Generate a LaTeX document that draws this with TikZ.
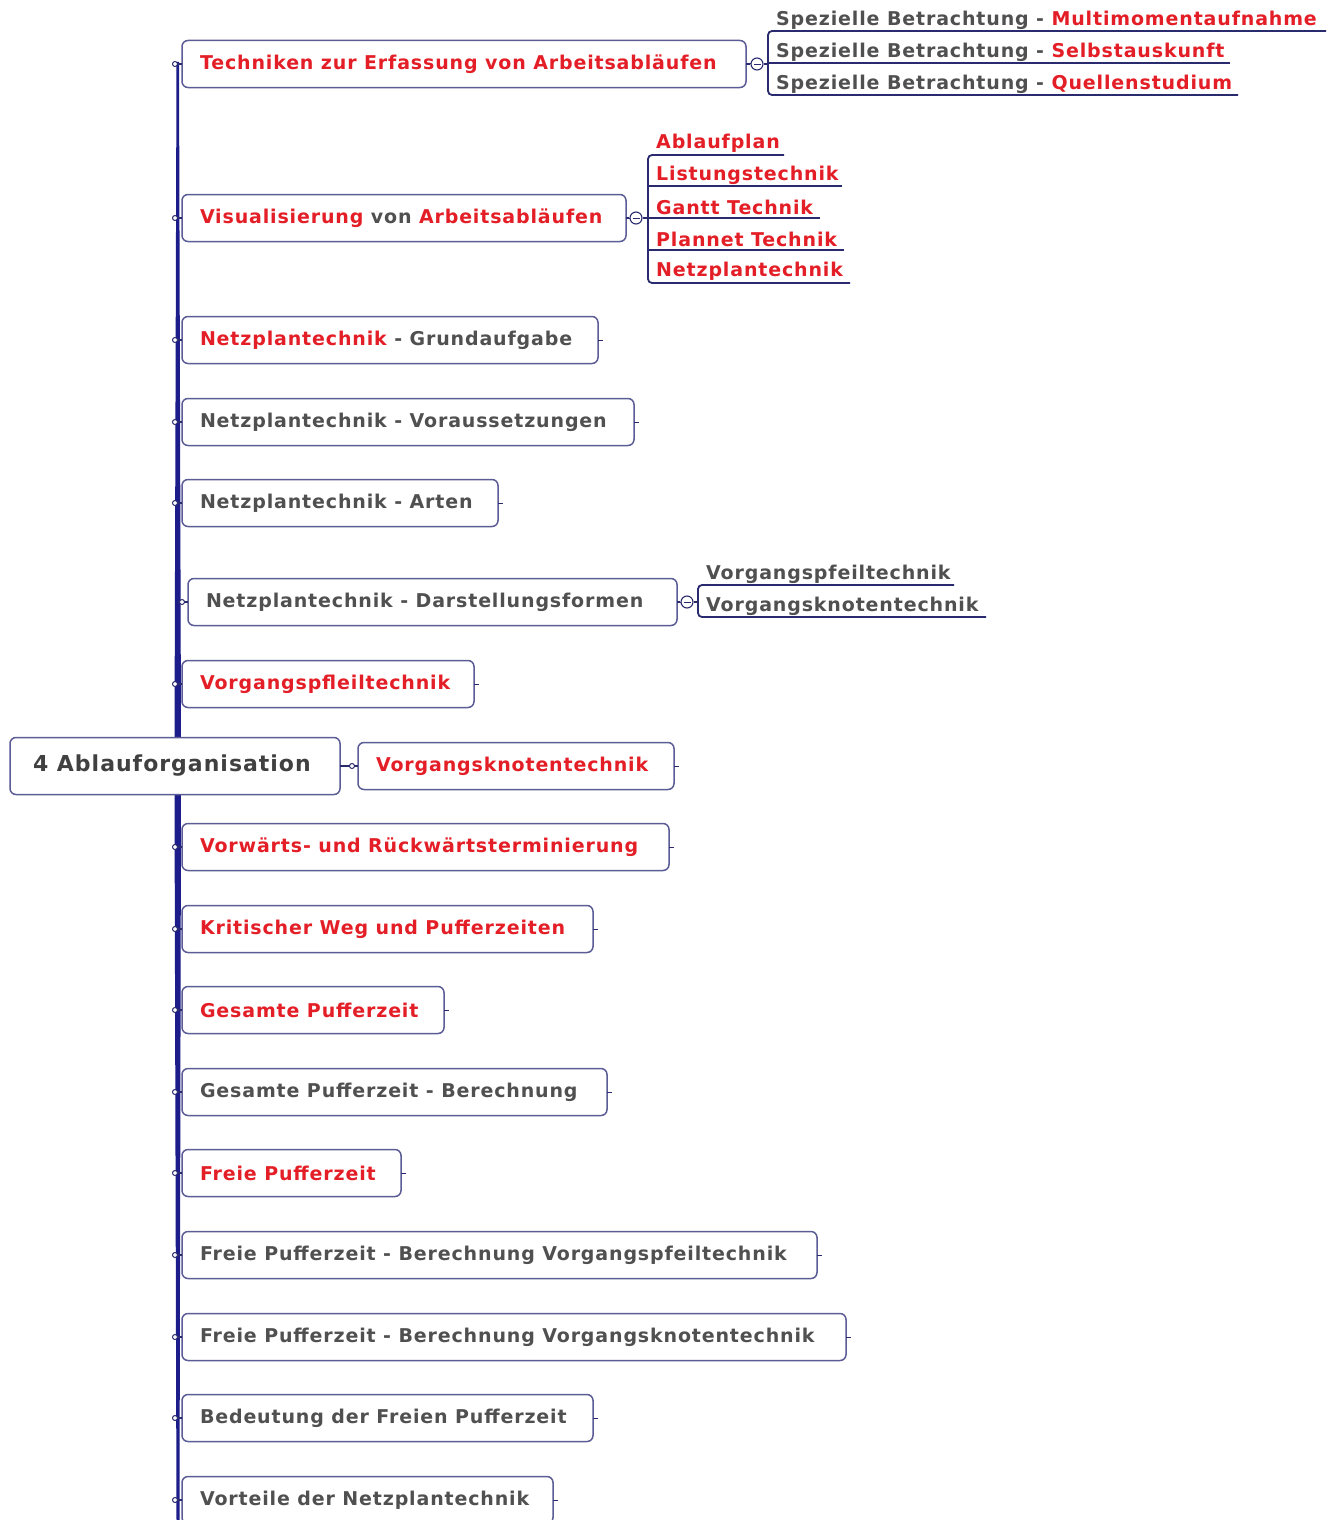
\documentclass[tikz,border=0pt]{standalone}
\usepackage{fontspec}
\setmainfont{DejaVu Sans}[LetterSpace=4.5]
\definecolor{tred}{HTML}{E41E26}
\definecolor{tgray}{HTML}{505050}
\definecolor{boxc}{HTML}{5C5C96}
\definecolor{navy}{HTML}{1C1C8A}
\definecolor{uline}{HTML}{2A2A6E}
\newcommand\R[1]{\textcolor{tred}{#1}}
\newcommand\fmain{\fontsize{19}{22}\selectfont\bfseries}
\newcommand\froot{\fontsize{22}{25}\selectfont\bfseries}
\newcommand\topicnode[5]{%
  \pgfmathsetmacro\tw{#3-#2-36}%
  \node[topic] (#1) at (#2,#4) {\makebox[\tw pt][l]{\raisebox{-1.5pt}{#5}}};%
  \draw[tick] (#1.east) -- ++(5,0);%
}
\begin{document}
\begin{tikzpicture}[x=1pt,y=-1pt,
  topic/.style={draw=boxc, line width=1.5pt, rounded corners=6pt, fill=white,
    anchor=west, minimum height=47pt, inner xsep=18pt, inner ysep=0pt,
    outer sep=0pt, text=tgray, font=\fmain},
  rootbox/.style={topic, minimum height=57pt, inner xsep=23pt, font=\froot, text=tgray!80!black},
  sub/.style={anchor=west, inner sep=0pt, text=tgray, font=\fmain},
  knob/.style={circle, draw=uline, fill=white, line width=1pt, inner sep=0pt, minimum size=5pt},
  coll/.style={circle, draw=uline, fill=white, line width=1.1pt, inner sep=0pt, minimum size=12pt,
    path picture={\draw[uline, line width=0.9pt] ([xshift=-3.5pt]path picture bounding box.center) -- ([xshift=3.5pt]path picture bounding box.center);}},
  conn/.style={draw=uline, line width=1.2pt},
  tick/.style={draw=uline, line width=1pt},
  ul/.style={draw=uline, line width=1.8pt, rounded corners=4pt},
]
\useasboundingbox (0,0) rectangle (1326,1520);
\fill[white] (0,0) rectangle (1326,1520);

% trunk
\fill[navy] (176.5,62) -- (179,62) -- (181,740) -- (174.5,740) -- cycle;
\fill[navy] (174.5,793) -- (181,793) -- (179.5,1520) -- (176.5,1520) -- cycle;

% root
\node[rootbox] (root) at (10,766) {\makebox[284pt][l]{\raisebox{-1.5pt}{4 Ablauforganisation}}};

% topics
\topicnode{t1}{182}{746}{64}{\R{Techniken zur Erfassung von Arbeitsabläufen}}
\topicnode{t2}{182}{626}{218}{\R{Visualisierung} von \R{Arbeitsabläufen}}
\topicnode{t3}{182}{598}{340}{\R{Netzplantechnik} - Grundaufgabe}
\topicnode{t4}{182}{634}{422}{Netzplantechnik - Voraussetzungen}
\topicnode{t5}{182}{498}{503}{Netzplantechnik - Arten}
\topicnode{t6}{188}{677}{602}{Netzplantechnik - Darstellungsformen}
\topicnode{t7}{182}{474}{684}{\R{Vorgangspfleiltechnik}}
\topicnode{t8}{358}{674}{766}{\R{Vorgangsknotentechnik}}
\topicnode{t9}{182}{669}{847}{\R{Vorwärts- und Rückwärtsterminierung}}
\topicnode{t10}{182}{593}{929}{\R{Kritischer Weg und Pufferzeiten}}
\topicnode{t11}{182}{444}{1010}{\R{Gesamte Pufferzeit}}
\topicnode{t12}{182}{607}{1092}{Gesamte Pufferzeit - Berechnung}
\topicnode{t13}{182}{401}{1173}{\R{Freie Pufferzeit}}
\topicnode{t14}{182}{817}{1255}{Freie Pufferzeit - Berechnung Vorgangspfeiltechnik}
\topicnode{t15}{182}{846}{1337}{Freie Pufferzeit - Berechnung Vorgangsknotentechnik}
\topicnode{t16}{182}{593}{1418}{Bedeutung der Freien Pufferzeit}
\topicnode{t17}{182}{553}{1500}{Vorteile der Netzplantechnik}

% trunk knobs
\foreach \n/\y in {t1/64,t2/218,t3/340,t4/422,t5/503,t7/684,t9/847,t10/929,t11/1010,t12/1092,t13/1173,t14/1255,t15/1337,t16/1418,t17/1500}{
  \coordinate (c\n) at (177,\y);
  \draw[conn] (c\n) -- (\n.west);
  \node[knob] (k\n) at (175,\y) {};
}
\coordinate (ct6) at (178,602);
\draw[conn] (ct6) -- (t6.west);
\node[knob] (kt6) at (182,602) {};
\draw[conn] (root.east) -- (t8.west);
\node[knob] (kt8) at (352,766) {};

% Techniken subtopics
\node[coll] (x1) at (757,64) {};
\draw[conn] (t1.east) -- (x1.west);
\coordinate (b1) at (768,64);
\draw[conn] (x1.east) -- (b1);
\draw[ul] (1326,31) -- (768,31) -- (768,95) -- (1238,95);
\draw[ul] (768,63) -- (1230,63);
\node[sub] (s11) at (776,20.5) {Spezielle Betrachtung - \R{Multimomentaufnahme}};
\node[sub] (s12) at (776,52.5) {Spezielle Betrachtung - \R{Selbstauskunft}};
\node[sub] (s13) at (776,84.5) {Spezielle Betrachtung - \R{Quellenstudium}};

% Visualisierung subtopics
\node[coll] (x2) at (636,218) {};
\draw[conn] (t2.east) -- (x2.west);
\coordinate (b2) at (648,218);
\draw[conn] (x2.east) -- (b2);
\draw[ul] (784,155) -- (648,155) -- (648,283) -- (850,283);
\draw[ul] (648,186) -- (842,186);
\draw[ul] (648,218) -- (820,218);
\draw[ul] (648,250) -- (844,250);
\node[sub] (s21) at (656,143.5) {\R{Ablaufplan}};
\node[sub] (s22) at (656,175.5) {\R{Listungstechnik}};
\node[sub] (s23) at (656,207.5) {\R{Gantt Technik}};
\node[sub] (s24) at (656,239.5) {\R{Plannet Technik}};
\node[sub] (s25) at (656,271.5) {\R{Netzplantechnik}};

% Darstellungsformen subtopics
\node[coll] (x6) at (687,602) {};
\draw[conn] (t6.east) -- (x6.west);
\coordinate (b6) at (698,602);
\draw[conn] (x6.east) -- (b6);
\draw[ul] (954,585) -- (698,585) -- (698,617) -- (986,617);
\node[sub] (s61) at (706,574.5) {Vorgangspfeiltechnik};
\node[sub] (s62) at (706,606.5) {Vorgangsknotentechnik};
\end{tikzpicture}
\end{document}
